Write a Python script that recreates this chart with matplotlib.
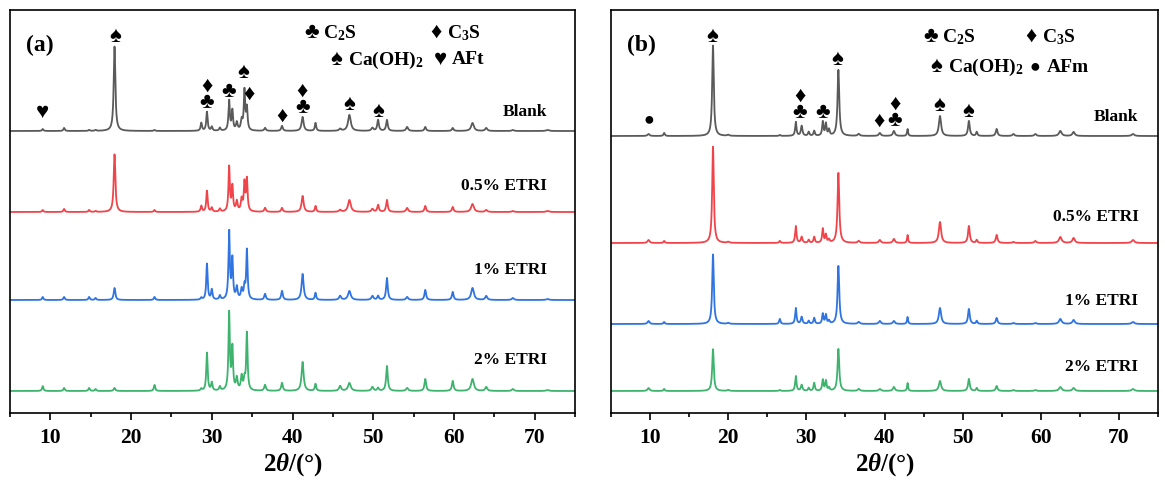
import numpy as np
import matplotlib
matplotlib.use('Agg')
import matplotlib.pyplot as plt

plt.rcParams['font.family'] = ['Liberation Serif', 'DejaVu Sans']
plt.rcParams['font.weight'] = 'bold'
plt.rcParams['mathtext.fontset'] = 'custom'
plt.rcParams['mathtext.rm'] = 'Liberation Serif:bold'
plt.rcParams['mathtext.it'] = 'Liberation Serif:italic:bold'
plt.rcParams['mathtext.bf'] = 'Liberation Serif:bold'

# ---- panel (a): peak positions (2theta), half widths and heights per sample
pos_a = [9.05, 11.7, 14.8, 15.6, 17.95, 22.9, 28.7, 29.4, 30.0, 31.0, 32.15, 32.55,
         33.1, 33.7, 34.05, 34.35, 36.6, 38.7, 41.25, 42.85, 45.9, 47.05, 49.9,
         50.6, 51.7, 54.2, 56.45, 59.85, 62.3, 64.0, 67.3, 71.6]
wid_a = [0.1, 0.1, 0.1, 0.1, 0.12, 0.1, 0.1, 0.1, 0.1, 0.1, 0.1, 0.1,
         0.12, 0.12, 0.1, 0.1, 0.12, 0.12, 0.15, 0.1, 0.15, 0.2, 0.15,
         0.12, 0.12, 0.15, 0.12, 0.12, 0.2, 0.15, 0.15, 0.2]
blank_a = [2, 3, 1, 1, 85, 1, 8, 19, 4, 3, 30, 20, 8, 10, 40, 22, 3, 5, 14, 8, 2, 16,
           3, 11, 11, 4, 4, 3, 8, 3, 1, 1]
etri05_a = [2, 3, 2, 1, 58, 2, 6, 21, 4, 3, 45, 25, 10, 12, 28, 32, 4, 4, 16, 6, 2, 12,
            3, 7, 12, 4, 6, 5, 8, 2, 1, 1]
etri1_a = [3, 3, 3, 2, 12, 3, 2, 36, 10, 4, 68, 40, 12, 10, 12, 50, 6, 9, 26, 7, 4, 9,
           4, 4, 22, 3, 10, 8, 12, 4, 2, 1]
etri2_a = [5, 3, 3, 2, 3, 6, 2, 38, 8, 4, 78, 42, 12, 14, 10, 58, 6, 8, 29, 7, 5, 8,
           4, 3, 25, 3, 12, 10, 12, 4, 2, 1]

# ---- panel (b)
pos_b = [9.8, 11.8, 18.05, 20.0, 26.6, 28.65, 29.4, 30.3, 31.0, 32.1, 32.5, 32.9,
         34.1, 36.7, 39.4, 41.2, 42.95, 47.1, 50.8, 51.8, 54.35, 56.5, 59.3, 62.5,
         64.2, 71.8]
wid_b = [0.15, 0.1, 0.12, 0.15, 0.1, 0.1, 0.12, 0.1, 0.1, 0.1, 0.1, 0.1,
         0.13, 0.15, 0.15, 0.15, 0.08, 0.17, 0.13, 0.1, 0.13, 0.15, 0.15, 0.2,
         0.18, 0.2]
blank_b = [2, 3, 91, 1, 1, 14, 10, 4, 5, 14, 12, 6, 66, 2, 3, 5, 7, 20, 15, 4, 7, 2, 2,
           5, 4, 2]
etri05_b = [3, 2, 97, 1, 2, 17, 6, 3, 6, 14, 8, 3, 70, 2, 3, 4, 8, 21, 17, 3, 8, 1, 2,
            6, 5, 3]
etri1_b = [3, 2, 70, 1, 5, 16, 7, 3, 6, 10, 9, 3, 58, 2, 3, 3, 7, 16, 15, 3, 6, 1, 1,
           5, 4, 2]
etri2_b = [3, 2, 42, 1, 1, 15, 6, 3, 8, 11, 10, 3, 42, 2, 2, 4, 8, 10, 12, 3, 5, 1, 1,
           4, 3, 2]

labels = ['Blank', '0.5% ETRI', '1% ETRI', '2% ETRI']
colors = ['#5a5a5a', '#f0444a', '#2f74e0', '#3db36e']
offsets_a = [282, 201, 113, 22]
offsets_b = [277, 170, 89, 22]
label_y_a = [301, 227, 143, 53]
label_y_b = [296, 196, 112, 46]

two_theta = np.arange(5, 75.01, 0.02)


def pattern(pos, wid, hts):
    y = np.zeros_like(two_theta)
    for p, w, h in zip(pos, wid, hts):
        y += h / (1 + ((two_theta - p) / w) ** 2)
    return y


fig = plt.figure(figsize=(11.65, 4.9), dpi=100)
ax_a = fig.add_axes([10 / 1165, 77 / 490, 565 / 1165, 403 / 490])
ax_b = fig.add_axes([611 / 1165, 77 / 490, 547 / 1165, 403 / 490])

panels = [
    (ax_a, pos_a, wid_a, [blank_a, etri05_a, etri1_a, etri2_a], offsets_a, label_y_a, 71.5, '(a)'),
    (ax_b, pos_b, wid_b, [blank_b, etri05_b, etri1_b, etri2_b], offsets_b, label_y_b, 72.5, '(b)'),
]

for ax, pos, wid, series, offs, ly, lx, tag in panels:
    for hts, off, col, lab, yy in zip(series, offs, colors, labels, ly):
        ax.plot(two_theta, pattern(pos, wid, hts) + off, color=col, lw=1.3)
        ax.text(lx, yy, lab, ha='right', va='center', fontsize=12.5, fontweight='bold')
    ax.set_xlim(5, 75)
    ax.set_ylim(0, 403)
    ax.set_yticks([])
    ax.set_xticks(range(10, 80, 10))
    ax.set_xticks(range(5, 80, 10), minor=True)
    ax.tick_params(axis='x', which='major', direction='out', length=5, width=1.2,
                   labelsize=15.5, pad=6)
    ax.tick_params(axis='x', which='minor', direction='out', length=3, width=1.2)
    for s in ax.spines.values():
        s.set_linewidth(1.2)
    for t in ax.get_xticklabels():
        t.set_fontweight('bold')
    ax.set_xlabel(r'2$\theta$/(°)', fontsize=18, fontweight='bold', labelpad=2)
    ax.text(7.0, 368, tag, fontsize=17, fontweight='bold', va='center')

# phase legend and peak markers
sym_kw = dict(ha='center', va='center', fontsize=16, color='black')
pair_kw = dict(ha='center', va='center', fontsize=16, color='black', linespacing=0.78)
dot_kw = dict(ha='center', va='center', fontsize=13, color='black')
leg_kw = dict(ha='left', va='center', fontsize=14, fontweight='bold')

ax_a.text(42.4, 380, '♣', **sym_kw)
ax_a.text(43.8, 380, 'C$_2$S', **leg_kw)
ax_a.text(57.8, 380, '♦', **sym_kw)
ax_a.text(59.1, 380, 'C$_3$S', **leg_kw)
ax_a.text(45.4, 353, '♠', **sym_kw)
ax_a.text(46.9, 353, 'Ca(OH)$_2$', **leg_kw)
ax_a.text(58.3, 353, '♥', **sym_kw)
ax_a.text(59.7, 353, 'AFt', **leg_kw)

marks_a = [('♥', 9.0, 300), ('♠', 18.0, 376), ('♦\n♣', 29.4, 318),
           ('♣', 32.1, 321), ('♠', 33.9, 340), ('♦', 34.6, 318), ('♦', 38.7, 296),
           ('♦\n♣', 41.2, 313), ('♠', 47.0, 308), ('♠', 50.6, 301)]
for s, x, y in marks_a:
    ax_a.text(x, y, s, **(pair_kw if '\n' in s else sym_kw))

ax_b.text(45.9, 376, '♣', **sym_kw)
ax_b.text(47.3, 376, 'C$_2$S', **leg_kw)
ax_b.text(58.8, 376, '♦', **sym_kw)
ax_b.text(60.1, 376, 'C$_3$S', **leg_kw)
ax_b.text(46.6, 346, '♠', **sym_kw)
ax_b.text(48.1, 346, 'Ca(OH)$_2$', **leg_kw)
ax_b.text(59.3, 346, '●', **dot_kw)
ax_b.text(60.8, 346, 'AFm', **leg_kw)

marks_b = [('●', 9.8, 293), ('♠', 18.0, 376), ('♦\n♣', 29.2, 308),
           ('♣', 32.1, 300), ('♠', 34.0, 353), ('♦', 39.3, 291),
           ('♦\n♣', 41.3, 300), ('♠', 47.0, 307), ('♠', 50.7, 301)]
for s, x, y in marks_b:
    if s == '●':
        ax_b.text(x, y, s, **dot_kw)
    else:
        ax_b.text(x, y, s, **(pair_kw if '\n' in s else sym_kw))

fig.savefig('out.png', dpi=100)
